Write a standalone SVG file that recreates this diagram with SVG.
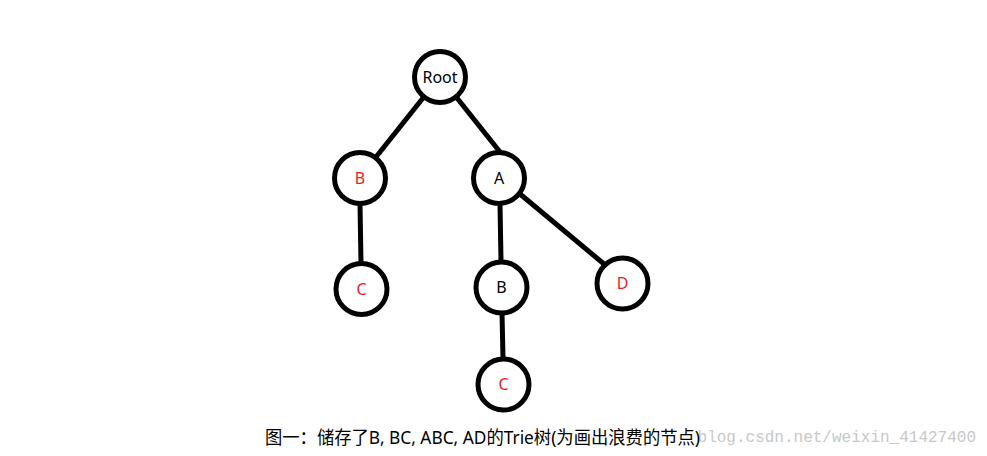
<svg xmlns="http://www.w3.org/2000/svg" width="987" height="456" viewBox="0 0 987 456">
<style>
.node circle{fill:#fff;stroke:#000;stroke-width:5}
.node text{font-family:"Noto Sans","Open Sans",sans-serif;font-size:16px;text-anchor:middle}
.red{fill:#ed1c24}
.blk{fill:#000}
#edges line{stroke:#000;stroke-width:5;stroke-linecap:butt}
.cap{font-family:"Noto Sans","Noto Sans CJK SC",sans-serif;font-size:18px;fill:#000}
.wm{font-family:"Liberation Mono",monospace;font-size:16px;fill:#c8c8c8}
</style>
<rect width="987" height="456" fill="#fff"/>
<g id="edges">
<line x1="423" y1="98" x2="376" y2="157"/>
<line x1="457" y1="98" x2="500" y2="152"/>
<line x1="360" y1="204" x2="361" y2="263"/>
<line x1="500" y1="204" x2="501" y2="261"/>
<line x1="520" y1="194" x2="604" y2="264"/>
<line x1="502" y1="313" x2="503" y2="358"/>
</g>
<g id="root" class="node"><circle cx="440" cy="77" r="25.5"/><text x="440" y="82.5" class="blk">Root</text></g>
<g id="nB" class="node"><circle cx="360" cy="178" r="25.5"/><text x="360" y="183.5" class="red">B</text></g>
<g id="nA" class="node"><circle cx="499" cy="178" r="25.5"/><text x="499" y="183.5" class="blk">A</text></g>
<g id="nBC" class="node"><circle cx="361.5" cy="289" r="25.5"/><text x="361.5" y="294.5" class="red">C</text></g>
<g id="nAB" class="node"><circle cx="501.5" cy="287.5" r="25.5"/><text x="501.5" y="293" class="blk">B</text></g>
<g id="nAD" class="node"><circle cx="622.5" cy="283.5" r="25.5"/><text x="622.5" y="289" class="red">D</text></g>
<g id="nABC" class="node"><circle cx="503.5" cy="384.5" r="25.5"/><text x="503.5" y="390" class="red">C</text></g>
<text class="wm" x="976" y="442" text-anchor="end">blog.csdn.net/weixin_41427400</text>
<text class="cap" x="265" y="444" textLength="435" lengthAdjust="spacingAndGlyphs">图一：储存了B, BC, ABC, AD的Trie树(为画出浪费的节点)</text>
</svg>
